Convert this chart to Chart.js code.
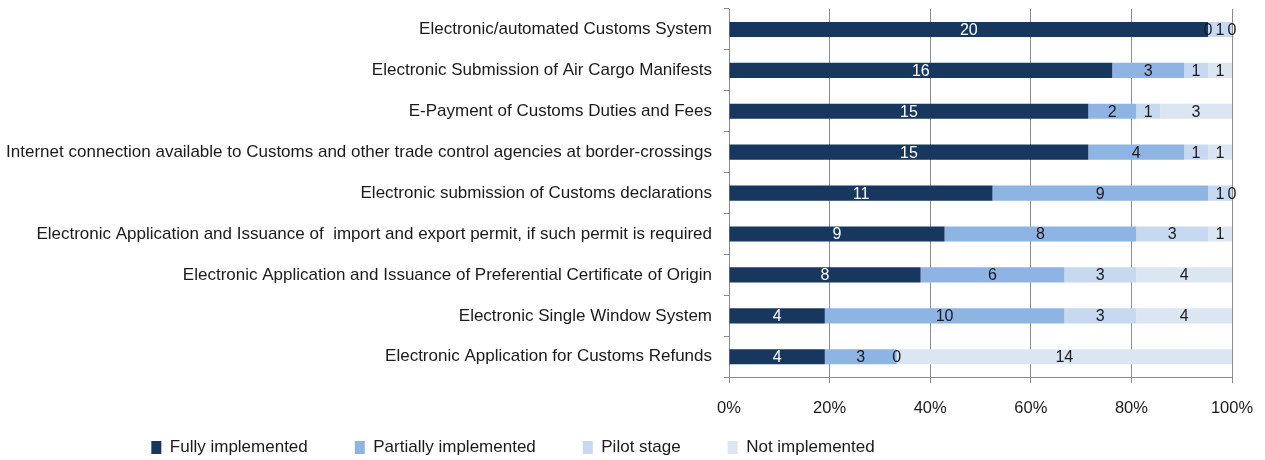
<!DOCTYPE html>
<html>
<head>
<meta charset="utf-8">
<script src="https://cdn.jsdelivr.net/npm/chart.js@4"></script>
<style>
  html, body { margin: 0; padding: 0; background: #fff; }
  #wrap { width: 1265px; height: 460px; }
</style>
</head>
<body>
<div id="wrap"><canvas id="chart"></canvas></div>
<script>
// categories top to bottom
const categories = [
  'Electronic/automated Customs System',
  'Electronic Submission of Air Cargo Manifests',
  'E-Payment of Customs Duties and Fees',
  'Internet connection available to Customs and other trade control agencies at border-crossings',
  'Electronic submission of Customs declarations',
  'Electronic Application and Issuance of  import and export permit, if such permit is required',
  'Electronic Application and Issuance of Preferential Certificate of Origin',
  'Electronic Single Window System',
  'Electronic Application for Customs Refunds'
];
const fully = [20, 16, 15, 15, 11, 9, 8, 4, 4];
const partially = [0, 3, 2, 4, 9, 8, 6, 10, 3];
const pilot = [1, 1, 1, 1, 1, 3, 3, 3, 0];
const notImpl = [0, 1, 3, 1, 0, 1, 4, 4, 14];
const xTicks = ['0%', '20%', '40%', '60%', '80%', '100%'];

const FONT = '"Liberation Sans", Arial, sans-serif';
const totals = categories.map((c, i) => fully[i] + partially[i] + pilot[i] + notImpl[i]);
const pct = arr => arr.map((v, i) => v / totals[i] * 100);

// draws the count in the middle of each segment (Excel style data labels)
const valueLabels = {
  id: 'valueLabels',
  afterDatasetsDraw(chart) {
    const ctx = chart.ctx;
    ctx.save();
    ctx.font = '16px ' + FONT;
    ctx.textAlign = 'center';
    ctx.textBaseline = 'middle';
    chart.data.datasets.forEach((ds, di) => {
      const meta = chart.getDatasetMeta(di);
      meta.data.forEach((bar, i) => {
        const { x, base, y } = bar.getProps(['x', 'base', 'y'], true);
        ctx.fillStyle = di === 0 ? '#ffffff' : '#1a1a1a';
        ctx.fillText(String(ds.counts[i]), (x + base) / 2, y + 1);
      });
    });
    ctx.restore();
  }
};

// legend in the original sits left of centre and close to the bottom edge
const legendShift = {
  id: 'legendShift',
  afterLayout(chart) {
    const lg = chart.legend;
    lg.left -= 105;
    lg.right -= 105;
    lg.top -= 41;
    lg.bottom -= 41;
  }
};

new Chart(document.getElementById('chart'), {
  type: 'bar',
  data: {
    labels: categories,
    datasets: [
      { label: 'Fully implemented', data: pct(fully), counts: fully, backgroundColor: '#17375e' },
      { label: 'Partially implemented', data: pct(partially), counts: partially, backgroundColor: '#8eb4e3' },
      { label: 'Pilot stage', data: pct(pilot), counts: pilot, backgroundColor: '#c6d9f1' },
      { label: 'Not implemented', data: pct(notImpl), counts: notImpl, backgroundColor: '#dce6f2' }
    ]
  },
  options: {
    indexAxis: 'y',
    responsive: true,
    maintainAspectRatio: false,
    animation: false,
    layout: { padding: { top: 9, right: 33, bottom: -47, left: 4 } },
    datasets: { bar: { barPercentage: 0.37, categoryPercentage: 1.0 } },
    plugins: {
      tooltip: { enabled: false },
      legend: {
        position: 'bottom',
        labels: {
          boxWidth: 10,
          boxHeight: 13,
          padding: 47,
          color: '#1a1a1a',
          font: { family: FONT, size: 17 }
        }
      }
    },
    scales: {
      x: {
        stacked: true,
        min: 0,
        max: 100,
        afterFit: scale => {
          scale.paddingLeft = 0;
          scale.paddingRight = 0;
        },
        ticks: {
          stepSize: 20,
          color: '#1a1a1a',
          padding: 15,
          font: { family: FONT, size: 16.5 },
          callback: (v, i) => xTicks[i]
        },
        grid: { color: '#8c8c8c', lineWidth: 1, drawTicks: true, tickLength: 6 },
        border: { color: '#8c8c8c' }
      },
      y: {
        stacked: true,
        afterFit: scale => {
          scale.width = 725;
          scale.paddingTop = 0;
          scale.paddingBottom = 0;
        },
        ticks: {
          color: '#1a1a1a',
          padding: 12,
          font: { family: FONT, size: 17 }
        },
        grid: { display: true, drawOnChartArea: false, offset: true, tickLength: 5, color: '#8c8c8c' },
        border: { color: '#8c8c8c' }
      }
    }
  },
  plugins: [valueLabels, legendShift]
});
</script>
</body>
</html>
